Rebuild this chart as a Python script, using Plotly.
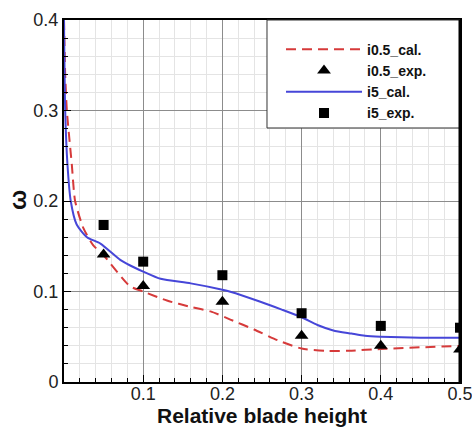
import plotly.graph_objects as go

# Computed loss coefficient profiles along the span
cal_i05_x = [0, 0.0015, 0.0036, 0.0099, 0.014, 0.0245, 0.037, 0.05, 0.083, 0.1,
             0.13, 0.16, 0.185, 0.21, 0.24, 0.27, 0.3, 0.33, 0.36, 0.4, 0.5]
cal_i05_y = [0.4, 0.34, 0.3, 0.24, 0.2, 0.17, 0.151, 0.140, 0.106, 0.100,
             0.090, 0.083, 0.078, 0.069, 0.058, 0.046, 0.037, 0.0345, 0.0345, 0.0365, 0.040]

cal_i5_x = [0, 0.0015, 0.0044, 0.0085, 0.016, 0.029, 0.046, 0.071, 0.083, 0.1,
            0.122, 0.16, 0.2, 0.21, 0.248, 0.275, 0.3, 0.32, 0.34, 0.363, 0.38, 0.4, 0.45, 0.5]
cal_i5_y = [0.4, 0.3, 0.24, 0.2, 0.174, 0.160, 0.153, 0.135, 0.129, 0.122,
            0.114, 0.109, 0.102, 0.0998, 0.0887, 0.080, 0.0715, 0.063, 0.057, 0.0535, 0.051, 0.050, 0.049, 0.049]

# Measured values
exp_x = [0.05, 0.1, 0.2, 0.3, 0.4, 0.5]
exp_i05_y = [0.141, 0.106, 0.0887, 0.051, 0.040, 0.036]
exp_i5_y = [0.1735, 0.133, 0.118, 0.076, 0.062, 0.060]

x_ticks = [0.1, 0.2, 0.3, 0.4, 0.5]
y_ticks = [0, 0.1, 0.2, 0.3, 0.4]
y_tick_text = ["0", "0.1", "0.2", "0.3", "0.4"]

FONT = "Liberation Sans, Arial, sans-serif"

fig = go.Figure()
fig.add_trace(go.Scatter(
    x=cal_i05_x, y=cal_i05_y, mode="lines", name="<b>i0.5_cal.</b>",
    line=dict(color="#d63a3a", width=2, dash="10px,6px", shape="spline", smoothing=0.6),
))
fig.add_trace(go.Scatter(
    x=exp_x, y=exp_i05_y, mode="markers", name="<b>i0.5_exp.</b>",
    marker=dict(symbol="triangle-up", size=12, color="black"),
))
fig.add_trace(go.Scatter(
    x=cal_i5_x, y=cal_i5_y, mode="lines", name="<b>i5_cal.</b>",
    line=dict(color="#4646d8", width=2, shape="spline", smoothing=0.6),
))
fig.add_trace(go.Scatter(
    x=exp_x, y=exp_i5_y, mode="markers", name="<b>i5_exp.</b>",
    marker=dict(symbol="square", size=10, color="black"),
))

axis_common = dict(
    showline=True, linecolor="black", linewidth=2, mirror=True,
    ticks="inside", ticklen=7, tickcolor="black", tickwidth=1,
    showgrid=True, gridcolor="#8c8c8c", gridwidth=1,
    zeroline=False, automargin=False, ticklabeloverflow="allow",
    tickfont=dict(family=FONT, size=18, color="#222"),
)

fig.update_xaxes(
    range=[0, 0.5], tickvals=x_ticks, ticktext=[str(v) for v in x_ticks],
    ticklabelstandoff=-6,
    minor=dict(dtick=0.02, showgrid=True, gridcolor="#e4e4e4", ticks="inside",
               ticklen=4, tickcolor="black"),
    **axis_common,
)
fig.update_yaxes(
    range=[0, 0.4], tickvals=y_ticks, ticktext=y_tick_text,
    minor=dict(dtick=0.02, showgrid=True, gridcolor="#e4e4e4", ticks="inside",
               ticklen=4, tickcolor="black"),
    **axis_common,
)

# Legend frame (white panel covering the grid)
fig.add_shape(type="rect", xref="paper", yref="paper",
              x0=0.5126, x1=1.0, y0=0.7017, y1=1.0,
              fillcolor="white", line=dict(color="#333", width=1), layer="above")
# Heavier right-hand border
fig.add_shape(type="line", xref="paper", yref="paper", x0=1, x1=1, y0=0, y1=1,
              line=dict(color="black", width=3), layer="above")

# Axis titles
fig.add_annotation(text="<b>ω</b>", xref="paper", yref="paper",
                   x=-0.116, y=0.503, xanchor="center", yanchor="middle",
                   showarrow=False, textangle=-90,
                   font=dict(family=FONT, size=24, color="#111"))
fig.add_annotation(text="<b>Relative blade height</b>", xref="paper", yref="paper",
                   x=0.5, y=-0.093, xanchor="center", yanchor="middle",
                   showarrow=False,
                   font=dict(family=FONT, size=21, color="#111"))

fig.update_layout(
    width=472, height=427,
    margin=dict(l=64, r=12, t=20, b=45),
    paper_bgcolor="white", plot_bgcolor="white",
    showlegend=True,
    legend=dict(x=0.548, y=0.962, xanchor="left", yanchor="top",
                bgcolor="rgba(0,0,0,0)", borderwidth=0, itemwidth=76,
                font=dict(family=FONT, size=14, color="#111"),
                tracegroupgap=0),
)

fig.write_html("out.html")
